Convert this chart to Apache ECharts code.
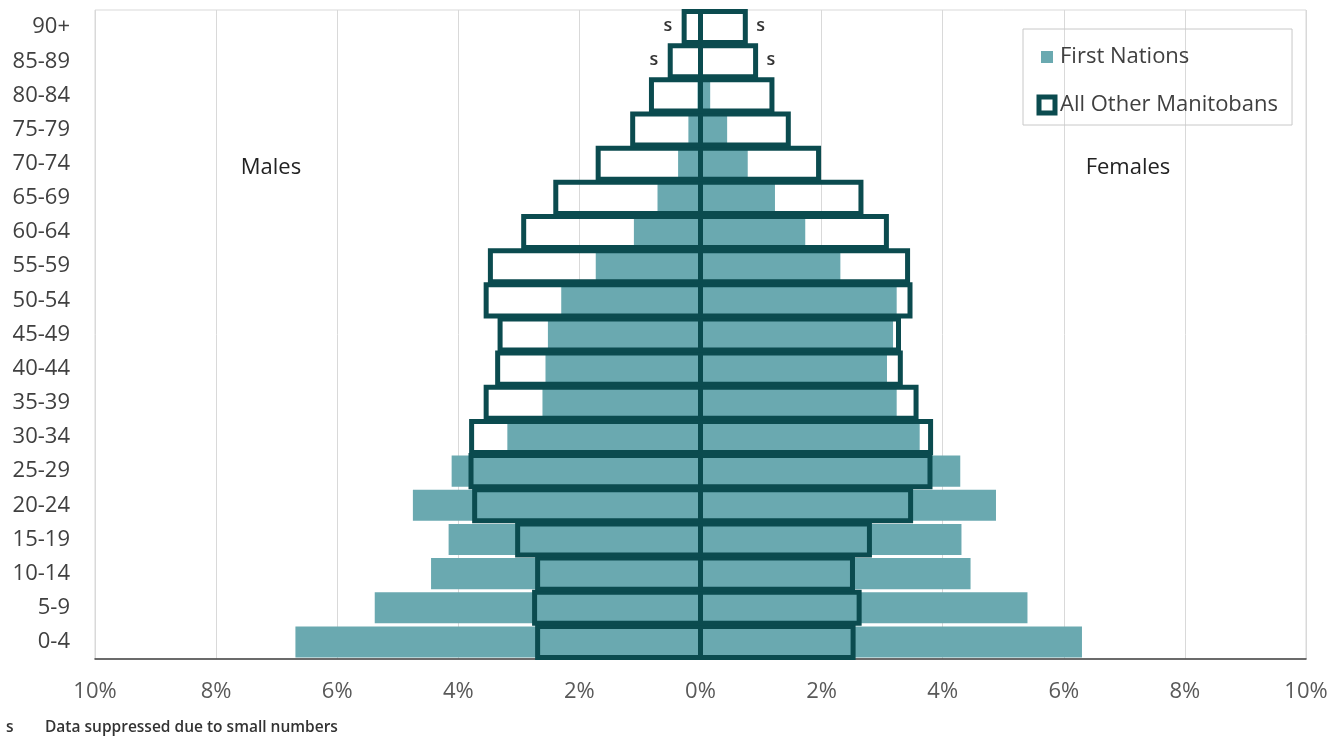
<!DOCTYPE html>
<html>
<head>
<meta charset="utf-8">
<script src="https://cdn.jsdelivr.net/npm/echarts@6/dist/echarts.min.js"></script>
<style>
  html, body { margin: 0; padding: 0; background: #fff; }
  #chart { width: 1343px; height: 738px; }
</style>
</head>
<body>
<div id="chart"></div>
<script>
// Age groups, bottom to top
const categories = ['0-4','5-9','10-14','15-19','20-24','25-29','30-34','35-39','40-44','45-49','50-54','55-59','60-64','65-69','70-74','75-79','80-84','85-89','90+'];
// Percent of population (null = suppressed, shown as "s")
const fnMale      = [6.69, 5.38, 4.45, 4.16, 4.75, 4.11, 3.19, 2.61, 2.56, 2.52, 2.30, 1.73, 1.10, 0.71, 0.37, 0.20, 0.05, null, null];
const otherMale   = [2.69, 2.74, 2.69, 3.02, 3.73, 3.79, 3.78, 3.54, 3.35, 3.31, 3.54, 3.47, 2.92, 2.39, 1.69, 1.12, 0.81, 0.50, 0.27];
const fnFemale    = [6.30, 5.40, 4.46, 4.31, 4.88, 4.29, 3.62, 3.24, 3.08, 3.18, 3.24, 2.31, 1.73, 1.23, 0.78, 0.44, 0.16, null, null];
const otherFemale = [2.52, 2.62, 2.51, 2.79, 3.47, 3.79, 3.80, 3.56, 3.30, 3.27, 3.46, 3.42, 3.07, 2.65, 1.95, 1.45, 1.18, 0.91, 0.74];
const xTicks = [-10, -8, -6, -4, -2, 0, 2, 4, 6, 8, 10];
const suppressedMark = 's';

const FN_COLOR = '#6aa9b0';
const OTHER_COLOR = '#0b4b4f';
const FONT = '"Open Sans", "Noto Sans", sans-serif';
const BAR_FRACTION = 0.91;

const chart = echarts.init(document.getElementById('chart'), null, { renderer: 'canvas' });

function makeOutlineRenderer(fnValues, side) {
  return function (params, api) {
    const idx = api.value(0);
    const val = api.value(1);
    const p0 = api.coord([0, idx]);
    const p1 = api.coord([val, idx]);
    const h = api.size([0, 1])[1] * BAR_FRACTION;
    const x = Math.min(p0[0], p1[0]);
    const w = Math.abs(p1[0] - p0[0]);
    const children = [{
      type: 'rect',
      shape: { x: x, y: p0[1] - h / 2, width: w, height: h },
      style: { fill: 'none', stroke: OTHER_COLOR, lineWidth: 5 }
    }];
    if (fnValues[params.dataIndex] === null) {
      children.push({
        type: 'text',
        x: side === 'left' ? p1[0] - 12 : p1[0] + 11,
        y: p1[1] - 1,
        style: {
          text: suppressedMark,
          fontSize: 18, fontWeight: 600, fontFamily: FONT, fill: '#333',
          textAlign: side === 'left' ? 'right' : 'left',
          textVerticalAlign: 'middle'
        }
      });
    }
    return { type: 'group', children: children };
  };
}

const option = {
  animation: false,
  backgroundColor: '#fff',
  textStyle: { fontFamily: FONT },
  grid: {
    left: 95, right: 37, top: 10, bottom: 79,
    show: true, borderColor: '#d9d9d9', borderWidth: 1,
    containLabel: false
  },
  legend: {
    orient: 'vertical',
    left: 1023, top: 29,
    borderColor: '#c8c8c8', borderWidth: 1,
    padding: [17, 14, 9, 13.5],
    itemGap: 26,
    itemWidth: 16, itemHeight: 16,
    textStyle: { fontSize: 22, color: '#404040', fontFamily: FONT, width: 222 },
    data: [
      { name: 'First Nations', icon: 'rect', itemStyle: { color: FN_COLOR, borderColor: '#fff', borderWidth: 4 } },
      { name: 'All Other Manitobans', icon: 'rect', itemStyle: { color: '#fff', borderColor: OTHER_COLOR, borderWidth: 5 } }
    ]
  },
  xAxis: {
    type: 'value',
    min: xTicks[0], max: xTicks[xTicks.length - 1], interval: 2,
    axisLine: { show: true, onZero: false, lineStyle: { color: '#404040', width: 1.5 } },
    axisTick: { show: false },
    splitLine: { show: true, lineStyle: { color: '#d9d9d9', width: 1 } },
    axisLabel: {
      formatter: v => Math.abs(v) + '%',
      fontSize: 22, color: '#595959', margin: 22, fontFamily: FONT
    }
  },
  yAxis: {
    type: 'category',
    data: categories,
    axisLine: { show: false },
    axisTick: { show: false },
    splitLine: { show: false },
    axisLabel: { fontSize: 22, color: '#404040', margin: 25, fontFamily: FONT }
  },
  series: [
    {
      name: 'First Nations', type: 'bar',
      data: fnMale.map(v => v === null ? null : -v),
      itemStyle: { color: FN_COLOR },
      barGap: '-100%', barCategoryGap: '9%', z: 2
    },
    {
      name: 'First Nations', type: 'bar',
      data: fnFemale.map(v => v),
      itemStyle: { color: FN_COLOR },
      barGap: '-100%', barCategoryGap: '9%', z: 2
    },
    {
      name: 'All Other Manitobans', type: 'custom',
      data: otherMale.map((v, i) => [i, -v]),
      encode: { y: 0, x: 1 },
      renderItem: makeOutlineRenderer(fnMale, 'left'),
      itemStyle: { color: OTHER_COLOR },
      z: 3
    },
    {
      name: 'All Other Manitobans', type: 'custom',
      data: otherFemale.map((v, i) => [i, v]),
      encode: { y: 0, x: 1 },
      renderItem: makeOutlineRenderer(fnFemale, 'right'),
      itemStyle: { color: OTHER_COLOR },
      z: 3
    }
  ],
  graphic: [
    { type: 'text', x: 271, y: 168, style: { text: 'Males', fontSize: 22, fill: '#222', fontFamily: FONT, textAlign: 'center', textVerticalAlign: 'middle' } },
    { type: 'text', x: 1128, y: 168, style: { text: 'Females', fontSize: 22, fill: '#222', fontFamily: FONT, textAlign: 'center', textVerticalAlign: 'middle' } },
    { type: 'text', x: 6, y: 728, style: { text: 's', fontSize: 15.5, fontWeight: 600, fill: '#333', fontFamily: FONT, textVerticalAlign: 'middle' } },
    { type: 'text', x: 45, y: 728, style: { text: 'Data suppressed due to small numbers', fontSize: 15.5, fontWeight: 600, fill: '#333', fontFamily: FONT, textVerticalAlign: 'middle' } }
  ]
};

chart.setOption(option);
</script>
</body>
</html>
